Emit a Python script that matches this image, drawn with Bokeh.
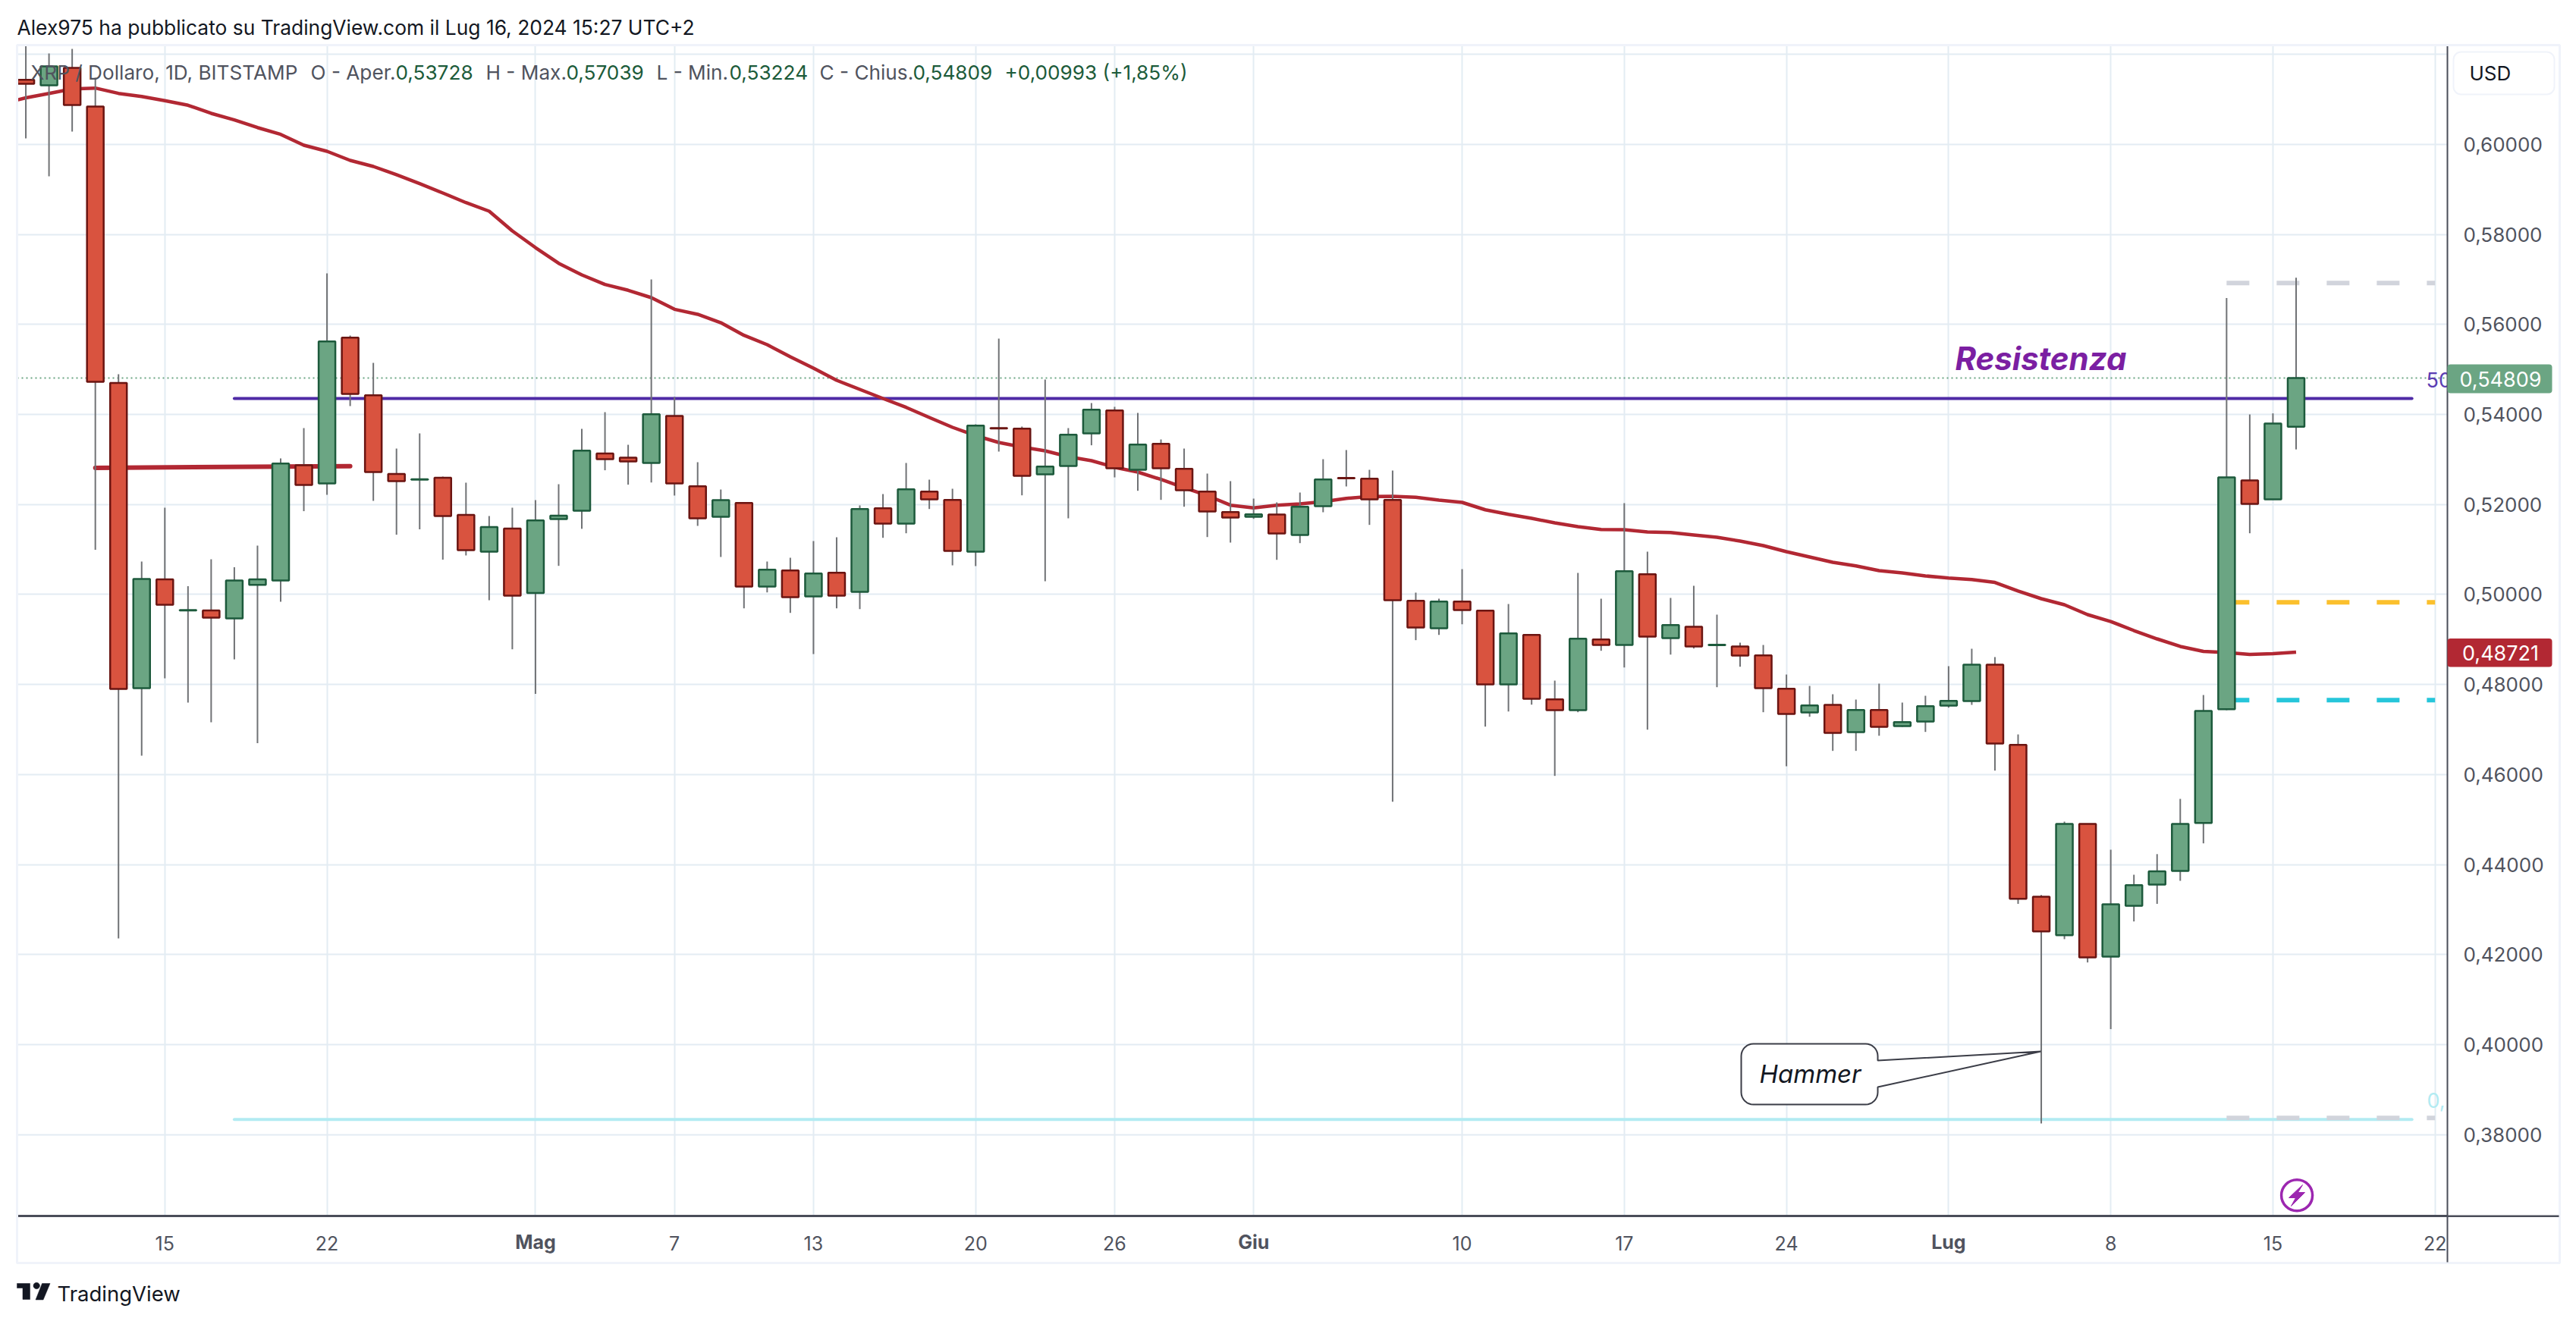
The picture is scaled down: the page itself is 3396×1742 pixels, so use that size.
from bokeh.plotting import figure
from bokeh.layouts import column
from bokeh.embed import file_html
from bokeh.resources import INLINE
from bokeh.models import (ColumnDataSource, FixedTicker, Range1d, Label, BoxAnnotation, PolyAnnotation)
from bokeh.core.properties import value
import numpy as np

# Day number 0 = 15 Apr 2024. First candle 9 Apr = -6
first_day = -6
opens = [
 .61437,.61314,.61701,.60842,.54699,.47919,.50335,.49644,.49644,.49469,.50216,.50311,.52873,.52468,.55708,.54428,.52677,.52552,.52593,.51767,.50952,.51467,
 .50035,.51676,.51862,.53134,.53041,.52923,.53968,.52406,.51727,.52035,.50177,.50535,.49958,.50485,.50059,.51917,.51575,.52288,.52103,.50952,.53698,.53686,.5267,.52856,.5358,.54091,.52771,.53349,.52793,.52288,.51833,
 .51727,.51777,.51322,.51963,.52591,.52574,.52103,.49862,.4925,.49845,.49643,.48003,.49103,.47671,.4743,.49002,.48879,.50451,.49031,.49284,.48874,.48846,.48648,.47907,.4738,.47548,.46942,.47435,.47076,.47178,
 .47531,.47633,.48441,.4666,.43285,.4243,.44903,.41954,.43083,.43555,.43858,.44923,.47451,.52536,.52114,.53728]
highs = [
 .62207,.62022,.62123,.61482,.54894,.50733,.51929,.50185,.50783,.50606,.51087,.53024,.53698,.57135,.55754,.55147,.53243,.5358,.5262,.52485,.51744,.51929,
 .52097,.52451,.53681,.54052,.53327,.57001,.54389,.5294,.52333,.52035,.50733,.50817,.51188,.51272,.5198,.52232,.52923,.52552,.5235,.53782,.55686,.53732,.54776,.53698,.54254,.5417,.54035,.53445,.53243,.52687,.52519,
 .52131,.52047,.52266,.53007,.5321,.52771,.52755,.50042,.49907,.50564,.49654,.49789,.49103,.48087,.5048,.49907,.5203,.50952,.49924,.50194,.49553,.4893,.48879,.48222,.47969,.47784,.47666,.4802,.47599,.4775,
 .48408,.48795,.4861,.46891,.43323,.44954,.44903,.4433,.43774,.44232,.45459,.47767,.56589,.54001,.54025,.57039]
lows = [
 .60134,.59292,.60286,.50992,.42359,.46419,.48138,.47599,.47161,.48559,.46696,.4984,.51852,.52215,.54187,.52081,.51329,.51449,.50775,.50868,.49873,.48783,
 .47791,.50637,.5146,.52761,.52441,.5249,.52199,.51525,.50834,.49693,.50047,.49592,.48677,.49693,.49676,.5126,.51361,.519,.50648,.50632,.53176,.52204,.50295,.51693,.53316,.52603,.52305,.52103,.51951,.51277,.51154,
 .51681,.50771,.51142,.51828,.52401,.51547,.45396,.48986,.49103,.49339,.47065,.47401,.47553,.4597,.47385,.4875,.48379,.46997,.48665,.488,.47941,.48396,.47385,.46184,.47284,.46526,.46526,.46862,.4706,.46947,
 .47486,.47548,.46088,.43127,.38248,.42343,.41825,.40344,.42736,.43127,.43639,.44471,.4743,.51361,.52114,.53224]
closes = [
 .61348,.61735,.60876,.54726,.47902,.50345,.49772,.49654,.49486,.50311,.50335,.52911,.52434,.55624,.54456,.52721,.52519,.52562,.51744,.50985,.51498,.49975,
 .51648,.5175,.53199,.53007,.52957,.54006,.52468,.51693,.52097,.50177,.50552,.49941,.50468,.49975,.519,.51575,.52338,.52114,.50969,.53754,.53688,.52637,.52844,.53552,.54108,.52805,.53333,.52805,.52317,.51845,.5171,
 .51782,.51356,.51951,.52557,.52581,.52114,.49873,.49267,.49845,.49654,.48003,.49137,.47683,.4743,.49019,.48879,.50519,.49065,.49322,.48846,.48884,.48643,.47919,.47346,.47536,.46925,.47435,.4706,.47166,.4752,
 .47638,.48441,.46689,.43238,.42514,.44903,.41938,.43117,.43543,.4385,.44903,.47413,.52603,.52013,.53799,.54809]

# moving average, starts on 8 Apr (day -7)
ma_first_day = -7
ma_values = [
 .6091,.61036,.61134,.61235,.61252,.61134,.61066,.60972,.60871,.60691,.60544,.60375,.60224,.59983,.59848,.59646,.59511,.59326,.59129,.58921,.58707,.58517,.58079,
 .57708,.57359,.57102,.56888,.5676,.56596,.56338,.56226,.5604,.55759,.55552,.55282,.55029,.5476,.54557,.54355,.54158,.53934,.53715,.5353,.53378,.53277,.53193,.53063,.52974,.52827,.52721,.52557,.52372,.52199,.51985,
 .51924,.51985,.52013,.52064,.52136,.52177,.52182,.5216,.52097,.52047,.51883,.51782,.51693,.51592,.51508,.51446,.5144,.5139,.51378,.51322,.51272,.51188,.51087,.50952,.50834,.50716,.50637,.50531,.5048,.50413,
 .50367,.50333,.50269,.50076,.49907,.49772,.49553,.49401,.49199,.49014,.48846,.48736,.48711,.48669,.48684,.48721]

# drawn levels (day start, day end, value)
resist_level = (3, 97, .54355)
support_level = (3, 97, .38335)
red_segment_days = [-3, 8]
red_segment_vals = [.52815, .5285]
fib_days = [89, 98]
fib_top, fib_yellow, fib_cyan, fib_bottom = .5692, .49826, .47653, .3837
last_close, last_ma = .54809, .48721

price_ticks = [.38,.40,.42,.44,.46,.48,.50,.52,.54,.56,.58,.60]
grid_prices = price_ticks + [.62]
date_ticks = [0,7,22,28,35,41,56,63,70,84,91,98]
date_labels = ["15","22","7","13","20","26","10","17","24","8","15","22"]
month_ticks = [16,47,77]
month_labels = ["Mag","Giu","Lug"]

# pixel calibration of the picture
def dx(px): return (px-216.8)/30.54
def dy(py): return .63201-py*.00016849

FONT="Inter"
C_UP, C_UPB = "#6ba583", "#1d5a3c"
C_DN, C_DNB = "#d9533f", "#6b1512"
C_GRID = "#e3ecf3"
C_TXT = "#50535e"
C_EDGE = "#f0f3fa"
C_AXIS = "#4a4d59"

W, H = 3396, 1742
p = figure(width=W, height=H, output_backend="svg", toolbar_location=None,
           x_range=Range1d(dx(22), dx(3226)), y_range=Range1d(dy(1603), dy(59)),
           y_axis_location="right", min_border_left=22, min_border_right=W-3226,
           min_border_top=59, min_border_bottom=H-1603, background_fill_color="white",
           border_fill_color="white", outline_line_color=None)
p.frame_align = False

p.xgrid.ticker = FixedTicker(ticks=date_ticks+month_ticks)
p.ygrid.ticker = FixedTicker(ticks=grid_prices)
for g in (p.xgrid, p.ygrid):
    g.grid_line_color = C_GRID
    g.grid_line_width = 2

ax = p.yaxis[0]
ax.ticker = FixedTicker(ticks=price_ticks)
ax.major_label_overrides = {t: f"{t:.5f}".replace(".", ",") for t in price_ticks}
ax.major_label_text_font = FONT
ax.major_label_text_font_size = "26px"
ax.major_label_text_color = C_TXT
ax.major_label_standoff = 15
ax.major_tick_line_color = None
ax.minor_tick_line_color = None
ax.axis_line_color = C_AXIS
ax.axis_line_width = 2

bx = p.xaxis[0]
bx.ticker = FixedTicker(ticks=date_ticks)
bx.major_label_overrides = dict(zip(date_ticks, date_labels))
bx.major_label_text_font = FONT
bx.major_label_text_font_size = "25px"
bx.major_label_text_color = C_TXT
bx.major_label_standoff = 20
bx.major_tick_line_color = None
bx.minor_tick_line_color = None
bx.axis_line_color = C_AXIS
bx.axis_line_width = 3

# levels
p.line([dx(22), dx(3226)], [last_close]*2, line_color=C_UP, line_width=2, line_dash="2 4")
p.line(resist_level[:2], [resist_level[2]]*2, line_color="#4f2ba6", line_width=4, line_cap="round")
p.line(support_level[:2], [support_level[2]]*2, line_color="#b2ebf2", line_width=4, line_cap="round")
p.line(red_segment_days, red_segment_vals, line_color="#b22833", line_width=6, line_cap="round")
for v, c in [(fib_top,"#d1d4dc"),(fib_yellow,"#fbc02d"),(fib_cyan,"#26c6da"),(fib_bottom,"#d1d4dc")]:
    p.line(fib_days, [v,v], line_color=c, line_width=6, line_dash="30 36")

# moving average
ma_days = list(range(ma_first_day, ma_first_day+len(ma_values)))
p.line(ma_days, ma_values, line_color="#b22833", line_width=4.5, line_join="round")

# candles
days = list(range(first_day, first_day+len(opens)))
up = [c >= o for o, c in zip(opens, closes)]
src = ColumnDataSource(dict(
    day=days, high=highs, low=lows,
    top=[max(o,c) for o,c in zip(opens,closes)],
    bottom=[min(o,c) for o,c in zip(opens,closes)],
    fill=[C_UP if u else C_DN for u in up],
    edge=[C_UPB if u else C_DNB for u in up]))
p.segment("day","high","day","low",source=src,line_color="#707275",line_width=2)
p.vbar("day",width=.72,top="top",bottom="bottom",source=src,fill_color="fill",line_color="edge",line_width=2.5)

# Hammer callout
bl, br, bt, bb, r = 2295, 2475, 1376, 1456, 16
xs, ys = [], []
for cx, cy, a0 in [(br-r,bt+r,-90),(br-r,bb-r,0),(bl+r,bb-r,90),(bl+r,bt+r,180)]:
    for a in np.radians(np.linspace(a0,a0+90,9)):
        xs.append(cx+r*np.cos(a)); ys.append(cy+r*np.sin(a))
    if a0 == -90:
        xs += [br, 2690, br]; ys += [1398, 1386, 1433]
p.patch([dx(v) for v in xs],[dy(v) for v in ys],fill_color="white",line_color="#3b3d47",line_width=2)

# lightning marker
p.scatter([dx(3027.6)],[dy(1575.8)],size=41,fill_color="white",line_color="#9c27b0",line_width=3.5)
bolt = [(3035,1562),(3017,1579),(3026,1579),(3020,1590),(3038,1572),(3029,1572)]
p.patch([dx(a) for a,b in bolt],[dy(b) for a,b in bolt],fill_color="#9c27b0",line_color="#9c27b0",line_width=1)

# clipped fib labels (cut by the price scale)
p.text([dx(3198)],[dy(500)],text=["50"],text_font=value(FONT),text_font_size="27px",text_color="#5b3db3",text_baseline="middle")
p.text([dx(3199)],[dy(1450)],text=["0,"],text_font=value(FONT),text_font_size="27px",text_color="#b2ebf2",text_baseline="middle")

# transparent page-sized layer on the same scales, for what lies outside the plot frame
q = figure(width=W, height=H, output_backend="svg", toolbar_location=None,
           x_range=Range1d(dx(0), dx(W)), y_range=Range1d(dy(H), dy(0)),
           x_axis_location=None, y_axis_location=None, min_border=0,
           background_fill_color=None, border_fill_color=None, outline_line_color=None)
q.frame_align = False
q.grid.visible = False
q.styles = {"margin-top": f"-{H}px"}

def label(px,py,text,color,size,align="left",style="normal",font=FONT):
    q.add_layout(Label(x=dx(px),y=dy(py),text=text,text_color=color,text_font_size=f"{size}px",text_font=font,
                       text_align=align,text_baseline="middle",text_font_style=style))

def box(l,r,t,b,fill=None,line=None,lw=2,radius=0):
    q.add_layout(BoxAnnotation(left=dx(l),right=dx(r),top=dy(t),bottom=dy(b),fill_color=fill,fill_alpha=1 if fill else 0,
                               line_color=line,line_width=lw,line_alpha=1 if line else 0,border_radius=radius,level="underlay"))

# outer frame and extensions of the axes
box(22,3374,59,1665,line=C_EDGE,lw=3)
box(3226,3373,1602,1604.5,fill=C_AXIS)
box(3225,3227,1603,1664,fill=C_AXIS)

label(22,35,"Alex975 ha pubblicato su TradingView.com il Lug 16, 2024 15:27 UTC+2","#131722",26.4)
C_LEG="#50535e"; C_VAL="#1c5b3a"
for px,t,c in [(40,"XRP / Dollaro, 1D, BITSTAMP",C_LEG),(409,"O - Aper.",C_LEG),(521,"0,53728",C_VAL),(640,"H - Max.",C_LEG),
               (746,"0,57039",C_VAL),(865,"L - Min.",C_LEG),(961,"0,53224",C_VAL),(1080,"C - Chius.",C_LEG),(1203,"0,54809",C_VAL),
               (1324,"+0,00993 (+1,85%)",C_VAL)]:
    label(px,95,t,c,26.2)

label(2577,472,"Resistenza","#7b1fa2",42,style="bold italic")
label(2386,1415,"Hammer","#131722",33,align="center",style="italic")

# price tags and USD box
box(3226,3364,480,518,fill=C_UP,radius=4)
label(3296,499,"0,54809","white",27,align="center")
box(3226,3364,841.5,879,fill="#b22833",radius=4)
label(3296,860,"0,48721","white",27,align="center")
box(3234,3367,68,124,line=C_EDGE,lw=2,radius=10)
label(3255,96,"USD","#131722",26)

for t,l in zip(month_ticks,month_labels):
    q.add_layout(Label(x=t,y=dy(1637),text=l,text_color=C_TXT,text_font=FONT,text_font_size="25px",
                       text_font_style="bold",text_align="center",text_baseline="middle"))

# TradingView logo
for poly in [[(22,1692),(39,1692),(39,1713),(29.5,1713),(29.5,1698),(22,1698)],
             [(55,1692),(65.5,1692),(56.5,1713.5),(46.5,1713.5)],
             [(47.7+4.2*np.cos(a),1695+4.2*np.sin(a)) for a in np.linspace(0,2*np.pi,20)]]:
    q.add_layout(PolyAnnotation(xs=[dx(a) for a,b in poly],ys=[dy(b) for a,b in poly],fill_color="#131722",fill_alpha=1,line_color="#131722",line_width=0.5,line_alpha=1))
label(75,1705,"TradingView","#131722",27.5)

page = column(p, q, spacing=0)
open("out.html","w").write(file_html(page,INLINE))
